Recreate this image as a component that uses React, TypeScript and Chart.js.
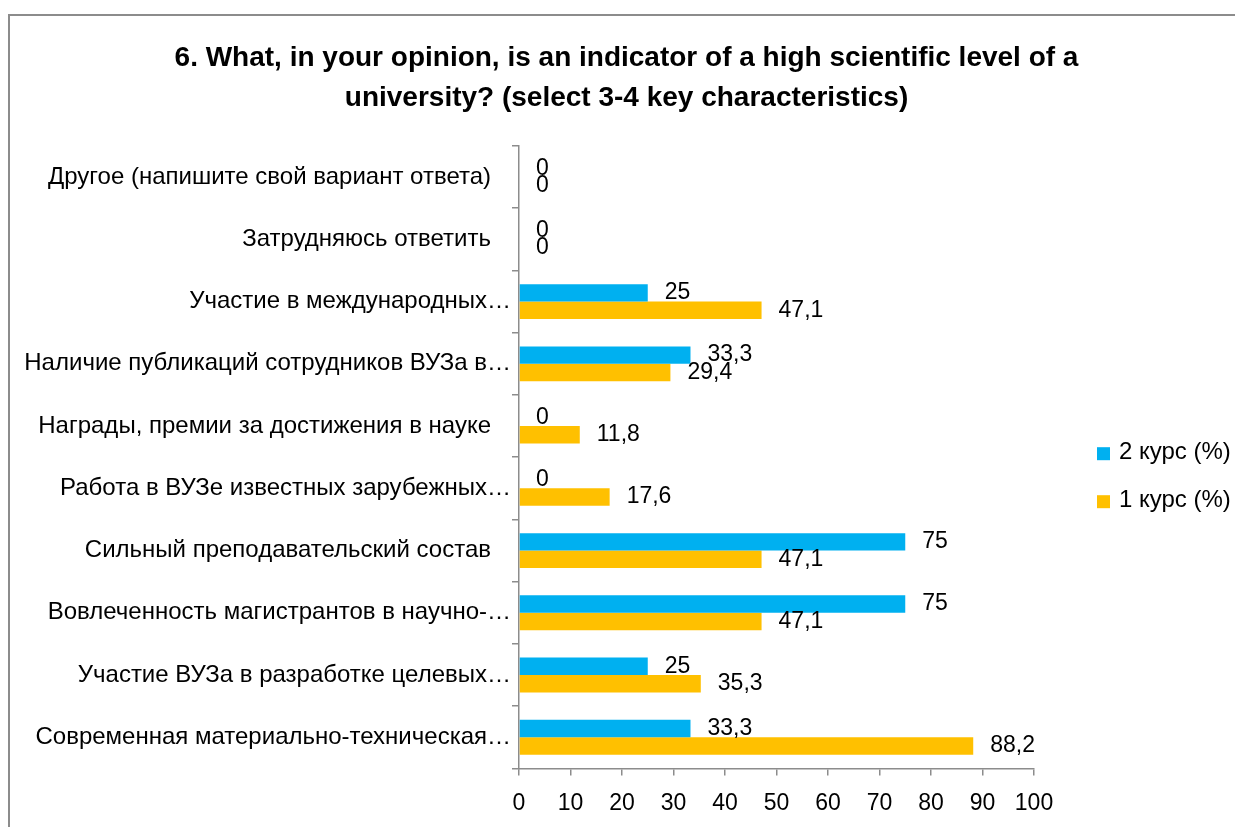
import React, { useEffect, useRef } from 'react';
import { Chart, registerables } from 'chart.js';

Chart.register(...registerables);

const FONT = '"Liberation Sans", Arial, sans-serif';

const titleLines = [
  '6. What, in your opinion, is an indicator of a high scientific level of a',
  'university? (select 3-4 key characteristics)',
];

const categories = [
  'Другое (напишите свой вариант ответа)   ',
  'Затрудняюсь ответить   ',
  'Участие в международных…',
  'Наличие публикаций сотрудников ВУЗа в…',
  'Награды, премии за достижения в науке   ',
  'Работа в ВУЗе известных зарубежных…',
  'Сильный преподавательский состав   ',
  'Вовлеченность магистрантов в научно-…',
  'Участие ВУЗа в разработке целевых…',
  'Современная материально-техническая…',
];

const seriesNames = ['2 курс (%)', '1 курс (%)'];
const course2Values = [0, 0, 25, 33.3, 0, 0, 75, 75, 25, 33.3];
const course1Values = [0, 0, 47.1, 29.4, 11.8, 17.6, 47.1, 47.1, 35.3, 88.2];

const axisMin = 0;
const axisMax = 100;
const axisStep = 10;

const fmt = (v: number) => String(v).replace('.', ',');

const dataLabelPlugin = {
  id: 'dataLabels',
  afterDatasetsDraw(chart: any) {
    const { ctx } = chart;
    ctx.save();
    ctx.font = `23px ${FONT}`;
    ctx.fillStyle = '#000';
    ctx.textAlign = 'left';
    ctx.textBaseline = 'middle';
    chart.data.datasets.forEach((ds: any, i: number) => {
      const meta = chart.getDatasetMeta(i);
      meta.data.forEach((el: any, j: number) => {
        ctx.fillText(fmt(ds.data[j]), el.x + 17, el.y);
      });
    });
    ctx.restore();
  },
};

const sideLegendPlugin = {
  id: 'sideLegend',
  afterDraw(chart: any) {
    const { ctx, chartArea } = chart;
    const dsets = chart.data.datasets;
    const boxX = chartArea.right + 63;
    const midY = (chartArea.top + chartArea.bottom) / 2 + 19;
    const step = 48;
    ctx.save();
    ctx.font = `24px ${FONT}`;
    ctx.textAlign = 'left';
    ctx.textBaseline = 'middle';
    dsets.forEach((d: any, i: number) => {
      const y = midY + (i - (dsets.length - 1) / 2) * step;
      ctx.fillStyle = d.backgroundColor;
      ctx.fillRect(boxX, y - 5, 13, 13);
      ctx.fillStyle = '#000';
      ctx.fillText(d.label, boxX + 22, y);
    });
    ctx.restore();
  },
};

export default function App() {
  const canvasRef = useRef<HTMLCanvasElement | null>(null);

  useEffect(() => {
    document.documentElement.style.overflow = 'hidden';
    document.body.style.overflow = 'hidden';
    const canvas = canvasRef.current;
    if (!canvas) return;
    const chart = new Chart(canvas, {
      type: 'bar',
      data: {
        labels: categories,
        datasets: [
          {
            label: seriesNames[0],
            data: course2Values,
            backgroundColor: '#00B0F0',
            borderWidth: 0,
            barPercentage: 1,
            categoryPercentage: 0.56,
          },
          {
            label: seriesNames[1],
            data: course1Values,
            backgroundColor: '#FFC000',
            borderWidth: 0,
            barPercentage: 1,
            categoryPercentage: 0.56,
          },
        ],
      },
      options: {
        indexAxis: 'y',
        animation: false,
        responsive: true,
        maintainAspectRatio: false,
        layout: { padding: { top: 0, left: 0, right: 0, bottom: 2 } },
        plugins: {
          legend: { display: false },
          tooltip: { enabled: false },
          title: {
            display: true,
            text: titleLines,
            color: '#000',
            font: { family: FONT, size: 28, weight: 'bold', lineHeight: 40 / 28 },
            padding: { top: 22, bottom: 28 },
          },
        },
        scales: {
          x: {
            min: axisMin,
            max: axisMax,
            ticks: {
              stepSize: axisStep,
              color: '#000',
              font: { family: FONT, size: 23 },
              padding: 14,
            },
            grid: {
              display: true,
              drawOnChartArea: false,
              drawTicks: true,
              tickLength: 7,
              color: '#8c8c8c',
              lineWidth: 1.5,
            },
            border: { display: true, color: '#8c8c8c', width: 1.5 },
            afterFit: (scale: any) => {
              scale.paddingRight = 209;
            },
          },
          y: {
            ticks: {
              color: '#000',
              font: { family: FONT, size: 24 },
              padding: 1,
            },
            grid: {
              display: true,
              offset: true,
              drawOnChartArea: false,
              drawTicks: true,
              tickLength: 7,
              color: '#8c8c8c',
              lineWidth: 1.5,
            },
            border: { display: true, color: '#8c8c8c', width: 1.5 },
            afterFit: (scale: any) => {
              scale.width = 509;
            },
          },
        },
      },
      plugins: [dataLabelPlugin, sideLegendPlugin],
    });
    return () => chart.destroy();
  }, []);

  return (
    <div style={{ paddingTop: 6 }}>
      <div
        style={{
          width: 1233,
          height: 817,
          borderTop: '2px solid #8c8c8c',
          borderLeft: '2px solid #8c8c8c',
          background: '#fff',
        }}
      >
        <div style={{ position: 'relative', width: 1233, height: 817 }}>
          <canvas ref={canvasRef} />
        </div>
      </div>
    </div>
  );
}
